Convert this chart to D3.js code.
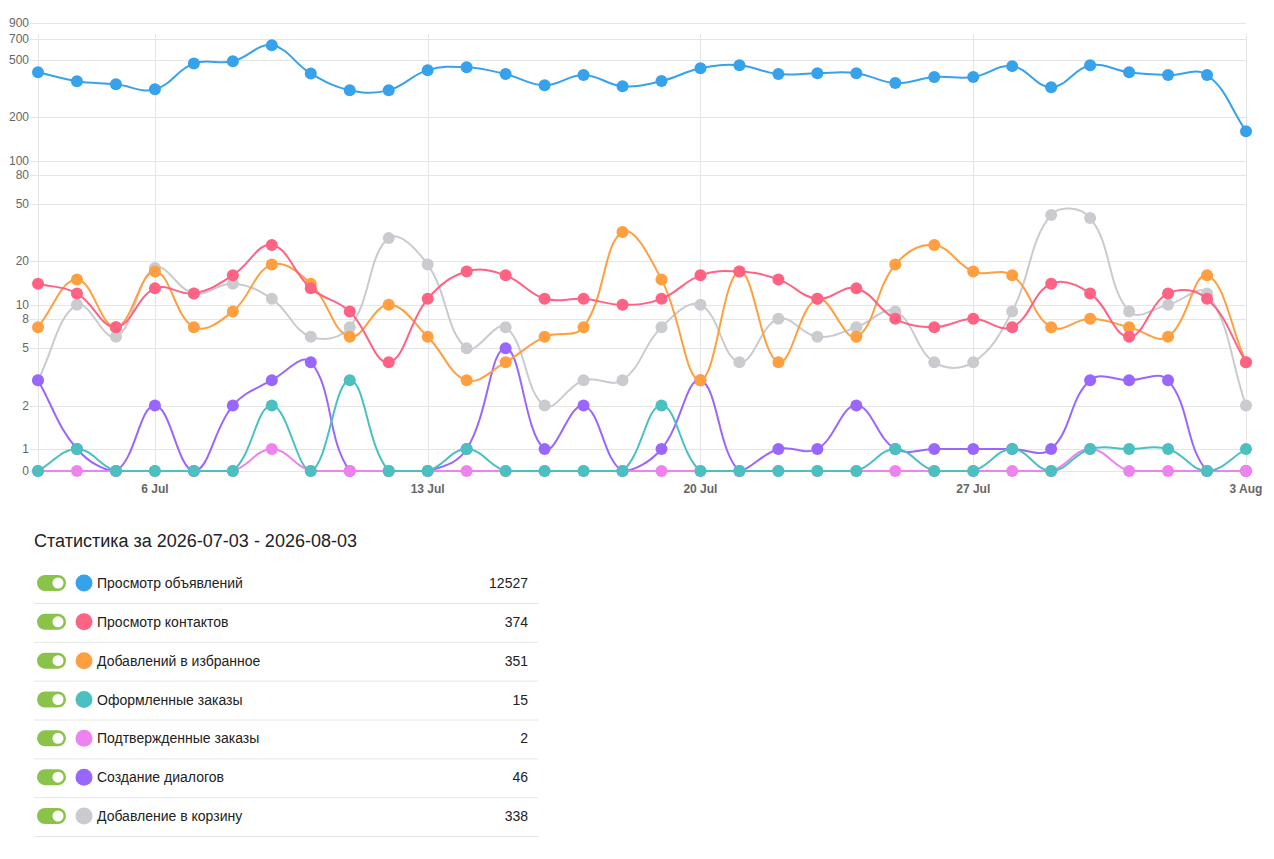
<!DOCTYPE html>
<html>
<head>
<meta charset="utf-8">
<script src="https://cdn.jsdelivr.net/npm/d3@7"></script>
<style>
  body { margin: 0; background: #fff; font-family: "Liberation Sans", Arial, Helvetica, sans-serif; }
</style>
</head>
<body>
<div class="container"></div>
<script>
var startDate = new Date(2026, 6, 3);
var days = d3.timeDay.range(startDate, new Date(2026, 7, 4));

var seriesNames = ['Просмотр объявлений', 'Просмотр контактов', 'Добавлений в избранное',
	'Оформленные заказы', 'Подтвержденные заказы', 'Создание диалогов', 'Добавление в корзину'];
var seriesColors = ['#36a2eb', '#ff6384', '#ff9f40', '#4bc0c0', '#ee82ee', '#9966ff', '#c9cbcf'];
var seriesTotals = [12527, 374, 351, 15, 2, 46, 338];

var views     = [410, 355, 338, 312, 472, 488, 630, 402, 308, 308, 424, 444, 398, 333, 392, 328,
                 356, 437, 458, 398, 404, 404, 345, 380, 380, 452, 323, 458, 410, 392, 392, 160];
var contacts  = [14, 12, 7, 13, 12, 16, 26, 13, 9, 4, 11, 17, 16, 11, 11, 10,
                 11, 16, 17, 15, 11, 13, 8, 7, 8, 7, 14, 12, 6, 12, 11, 4];
var favorites = [7, 15, 7, 17, 7, 9, 19, 14, 6, 10, 6, 3, 4, 6, 7, 32,
                 15, 3, 17, 4, 11, 6, 19, 26, 17, 16, 7, 8, 7, 6, 16, 4];
var orders    = [0, 1, 0, 0, 0, 0, 2, 0, 3, 0, 0, 1, 0, 0, 0, 0,
                 2, 0, 0, 0, 0, 0, 1, 0, 0, 1, 0, 1, 1, 1, 0, 1];
var confirmed = [0, 0, 0, 0, 0, 0, 1, 0, 0, 0, 0, 0, 0, 0, 0, 0,
                 0, 0, 0, 0, 0, 0, 0, 0, 0, 0, 0, 1, 0, 0, 0, 0];
var dialogs   = [3, 1, 0, 2, 0, 2, 3, 4, 0, 0, 0, 1, 5, 1, 2, 0,
                 1, 3, 0, 1, 1, 2, 1, 1, 1, 1, 1, 3, 3, 3, 0, 0];
var cart      = [3, 10, 6, 18, 12, 14, 11, 6, 7, 29, 19, 5, 7, 2, 3, 3,
                 7, 10, 4, 8, 6, 7, 9, 4, 4, 9, 42, 40, 9, 10, 12, 2];

var allSeries = [views, contacts, favorites, orders, confirmed, dialogs, cart];
var yTickValues = [0, 1, 2, 5, 8, 10, 20, 50, 80, 100, 200, 500, 700, 900];
var xTickDates = [new Date(2026, 6, 6), new Date(2026, 6, 13), new Date(2026, 6, 20),
	new Date(2026, 6, 27), new Date(2026, 7, 3)];

var WIDTH = 1274, HEIGHT = 859;
var LEFT = 38, RIGHT = 1246, TOP = 23, ONE = 449, ZERO = 471;

// chart.js style spline (tension 0.4, control points kept inside the area)
var splineCurve = function(context) {
	var pts;
	return {
		areaStart: function() {}, areaEnd: function() {},
		lineStart: function() { pts = []; },
		point: function(x, y) { pts.push([+x, +y]); },
		lineEnd: function() {
			var t = 0.4, n = pts.length, cps = [];
			pts.forEach(function(p, i) {
				var a = pts[Math.max(i - 1, 0)], b = pts[Math.min(i + 1, n - 1)];
				var d01 = Math.hypot(p[0] - a[0], p[1] - a[1]);
				var d12 = Math.hypot(b[0] - p[0], b[1] - p[1]);
				var s01 = d01 / (d01 + d12) || 0, s12 = d12 / (d01 + d12) || 0;
				var fa = t * s01, fb = t * s12;
				var cap = function(q) {
					return [Math.min(Math.max(q[0], LEFT), RIGHT), Math.min(Math.max(q[1], TOP), ZERO)];
				};
				cps.push({
					prev: cap([p[0] - fa * (b[0] - a[0]), p[1] - fa * (b[1] - a[1])]),
					next: cap([p[0] + fb * (b[0] - a[0]), p[1] + fb * (b[1] - a[1])])
				});
			});
			context.moveTo(pts[0][0], pts[0][1]);
			for (var i = 1; i < n; i++) {
				context.bezierCurveTo(cps[i - 1].next[0], cps[i - 1].next[1],
					cps[i].prev[0], cps[i].prev[1], pts[i][0], pts[i][1]);
			}
		}
	};
};

var svg = d3.select('.container').append('svg')
	.attr('width', WIDTH)
	.attr('height', HEIGHT)
	.style('display', 'block');

var xScale = d3.scaleTime()
	.domain([startDate, new Date(2026, 7, 3)])
	.range([LEFT, RIGHT]);

var logScale = d3.scaleLog()
	.domain([1, 900])
	.range([ONE, TOP]);

// zero has no log, chart.js parks it just below 1
var yScale = function(v) { return v > 0 ? logScale(v) : ZERO; };

// grid
var grid = svg.append('g');
grid.selectAll('line.h').data(yTickValues).enter()
	.append('line')
	.attr('x1', LEFT - 8).attr('x2', RIGHT)
	.attr('y1', function(d) { return Math.round(yScale(d)) + 0.5; })
	.attr('y2', function(d) { return Math.round(yScale(d)) + 0.5; })
	.attr('stroke', '#e5e5e5');

grid.selectAll('line.v').data([startDate].concat(xTickDates)).enter()
	.append('line')
	.attr('x1', function(d) { return Math.round(xScale(d)) + 0.5; })
	.attr('x2', function(d) { return Math.round(xScale(d)) + 0.5; })
	.attr('y1', 34).attr('y2', ZERO + 8)
	.attr('stroke', '#e5e5e5');

svg.append('g').selectAll('text').data(yTickValues).enter()
	.append('text')
	.attr('x', 29)
	.attr('y', function(d) { return yScale(d) + 4; })
	.attr('text-anchor', 'end')
	.attr('fill', '#666')
	.attr('font-size', 12)
	.text(function(d) { return d; });

svg.append('g').selectAll('text').data(xTickDates).enter()
	.append('text')
	.attr('x', function(d) { return xScale(d); })
	.attr('y', 493)
	.attr('text-anchor', 'middle')
	.attr('fill', '#666')
	.attr('font-size', 12)
	.attr('font-weight', 'bold')
	.text(d3.timeFormat('%-d %b'));

var line = d3.line()
	.curve(splineCurve)
	.x(function(d, i) { return xScale(days[i]); })
	.y(function(d) { return yScale(d); });

// first dataset ends up on top
d3.range(allSeries.length).reverse().forEach(function(k) {
	var g = svg.append('g');
	g.append('path')
		.datum(allSeries[k])
		.attr('d', line)
		.attr('fill', 'none')
		.attr('stroke', seriesColors[k])
		.attr('stroke-width', 2);
	g.selectAll('circle').data(allSeries[k]).enter()
		.append('circle')
		.attr('cx', function(d, i) { return xScale(days[i]); })
		.attr('cy', function(d) { return yScale(d); })
		.attr('r', 6)
		.attr('fill', seriesColors[k]);
});

// stats table below the chart
svg.append('text')
	.attr('x', 34).attr('y', 547)
	.attr('font-size', 18)
	.attr('fill', '#222')
	.text('Статистика за 2026-07-03 - 2026-08-03');

var rowY = d3.scaleLinear().domain([0, 6]).range([583, 816]);
var rows = svg.append('g').selectAll('g').data(seriesNames).enter()
	.append('g')
	.attr('transform', function(d, i) { return 'translate(0,' + rowY(i) + ')'; });

rows.append('rect')
	.attr('x', 37).attr('y', -8).attr('width', 29).attr('height', 16).attr('rx', 8)
	.attr('fill', '#8bc34a');
rows.append('circle')
	.attr('cx', 58).attr('cy', 0).attr('r', 5.5)
	.attr('fill', '#fff');
rows.append('circle')
	.attr('cx', 84).attr('cy', 0).attr('r', 8.5)
	.attr('fill', function(d, i) { return seriesColors[i]; });
rows.append('text')
	.attr('x', 97).attr('y', 5)
	.attr('font-size', 14).attr('fill', '#222')
	.text(function(d) { return d; });
rows.append('text')
	.attr('x', 528).attr('y', 5)
	.attr('text-anchor', 'end')
	.attr('font-size', 14).attr('fill', '#222')
	.text(function(d, i) { return seriesTotals[i]; });
rows.append('line')
	.attr('x1', 34).attr('x2', 538)
	.attr('y1', 20.5).attr('y2', 20.5)
	.attr('stroke', '#e6e6e6');
</script>
</body>
</html>
